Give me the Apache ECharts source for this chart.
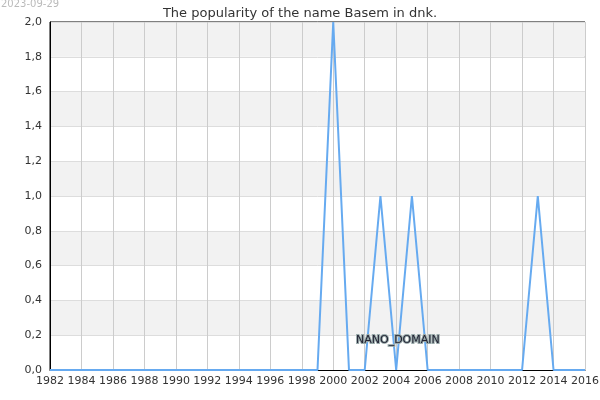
<!DOCTYPE html>
<html><head><meta charset="utf-8">
<script src="https://cdn.jsdelivr.net/npm/echarts@6/dist/echarts.min.js"></script>
<style>html,body{margin:0;padding:0;background:#fff}#c{width:600px;height:400px}</style>
</head><body><div id="c"></div>
<script>
const years = [1982,1983,1984,1985,1986,1987,1988,1989,1990,1991,1992,1993,1994,1995,1996,1997,1998,1999,2000,2001,2002,2003,2004,2005,2006,2007,2008,2009,2010,2011,2012,2013,2014,2015,2016];
const values = [0,0,0,0,0,0,0,0,0,0,0,0,0,0,0,0,0,0,2,0,0,1,0,1,0,0,0,0,0,0,0,1,0,0,0];
const titleText = 'The popularity of the name Basem in dnk.';
const dateText = '2023-09-29';
const watermark = 'Names of the World © 2023';
const domainText = 'NANO_DOMAIN';

const chart = echarts.init(document.getElementById('c'));
const font = 'DejaVu Sans';
chart.setOption({
  animation: false,
  textStyle: {fontFamily: font},
  title: {text: titleText, left: 'center', top: 2, textStyle: {fontFamily: font, fontSize: 13, fontWeight: 'normal', color: '#333'}},
  grid: {left: 50, right: 15, top: 22, bottom: 30, show: true, borderColor: '#000', borderWidth: 1, backgroundColor: 'transparent', containLabel: false, outerBoundsMode: 'none'},
  xAxis: {type: 'value', min: 1982, max: 2016, interval: 2,
    axisLine: {show: true, lineStyle: {color: '#000', width: 1}},
    axisTick: {show: false},
    axisLabel: {color: '#333', fontSize: 11, margin: 6, fontFamily: font, showMinLabel: true, showMaxLabel: true, hideOverlap: false, formatter: v => String(v)},
    splitLine: {show: true, lineStyle: {color: '#ccc', width: 1}}},
  yAxis: {type: 'value', min: 0, max: 2, interval: 0.2,
    axisLine: {show: true, lineStyle: {color: '#000', width: 1}},
    axisTick: {show: false},
    axisLabel: {color: '#333', fontSize: 11, margin: 8, fontFamily: font, formatter: v => v.toFixed(1).replace('.', ',')},
    splitLine: {show: true, lineStyle: {color: '#ddd', width: 1}},
    splitArea: {show: true, areaStyle: {color: ['#ffffff', '#f2f2f2']}}},
  series: [{type: 'line', data: years.map((y, i) => [y, values[i]]), symbol: 'none',
    lineStyle: {color: '#66aaf0', width: 2}, z: 3}],
  graphic: [
    {type: 'text', left: 1, top: -1, style: {text: dateText, fill: '#bbb', font: '10px "DejaVu Sans"'}},
    {type: 'text', left: 87, top: 72, style: {text: watermark, fill: '#ececf8', font: '11px "DejaVu Sans"'}},
    {type: 'text', left: 291, top: 118, style: {text: watermark, fill: '#ececf8', font: '11px "DejaVu Sans"'}},
    {type: 'text', left: 145, top: 215, style: {text: watermark, fill: '#ececf8', font: '11px "DejaVu Sans"'}},
    {type: 'text', left: 355, top: 334, z: 10, style: {text: domainText, fill: '#223', stroke: '#9aa', lineWidth: 2, font: '11px "DejaVu Sans"'}}
  ]
});
</script></body></html>
